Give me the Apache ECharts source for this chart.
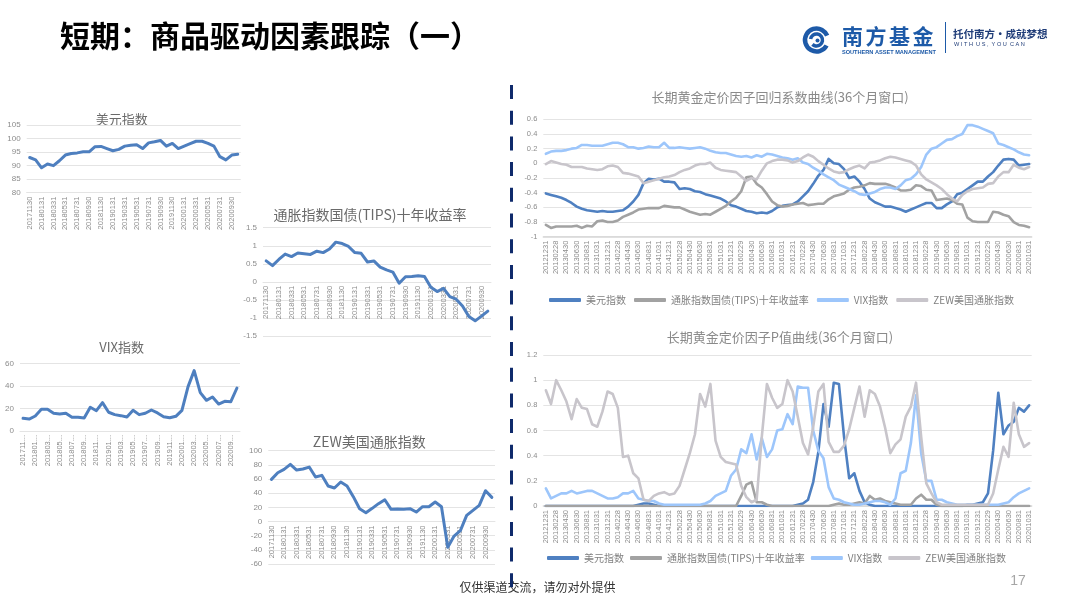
<!DOCTYPE html>
<html><head><meta charset="utf-8">
<script src="https://cdn.jsdelivr.net/npm/echarts@6/dist/echarts.min.js"></script>
<style>html,body{margin:0;padding:0;background:#fff}#c{width:1080px;height:599px}</style>
</head><body><div id="c"></div>
<script>
// ---------- data ----------
const smallDates = ['20171130','20171231','20180131','20180228','20180331','20180430','20180531','20180630','20180731','20180831','20180930','20181031','20181130','20181231','20190131','20190228','20190331','20190430','20190531','20190630','20190731','20190831','20190930','20191031','20191130','20191231','20200131','20200229','20200331','20200430','20200531','20200630','20200731','20200831','20200930','20201031'];
const usdIndex = [93.0,92.1,89.2,90.6,90.0,91.8,93.9,94.5,94.7,95.1,95.1,97.0,97.1,96.3,95.5,96.0,97.2,97.5,97.7,96.3,98.4,98.8,99.3,97.2,98.2,96.3,97.2,98.1,99.0,99.0,98.2,97.2,93.3,92.1,93.9,94.2];
const tipsYield = [0.58,0.45,0.62,0.77,0.70,0.80,0.78,0.76,0.85,0.81,0.91,1.10,1.06,0.98,0.81,0.79,0.55,0.58,0.41,0.33,0.27,-0.04,0.14,0.15,0.17,0.15,-0.15,-0.27,-0.18,-0.41,-0.48,-0.67,-0.96,-1.08,-0.95,-0.81];
const vixIndex = [11.2,10.6,13.3,19.2,19.2,15.7,15.1,15.7,12.1,12.1,11.5,21.0,18.0,25.1,16.6,14.5,13.6,12.4,18.3,14.5,15.7,18.6,16.0,12.7,11.8,13.0,18.3,39.3,53.5,34.0,27.2,30.1,23.9,26.3,26.0,38.1];
const zewIndex = [59.5,68.9,73.6,80.7,72.7,74.1,76.9,62.8,65.2,50.1,47.3,55.8,50.1,35.1,18.1,12.5,18.6,25.2,30.8,17.2,17.6,17.2,18.1,13.4,20.9,20.9,27.5,20.9,-36.5,-20.5,-12.9,8.7,15.8,22.8,43.5,34.1];

const longDates = ['20121231',
 '20130131','20130228','20130331','20130430','20130531','20130630','20130731','20130831','20130930','20131031','20131130','20131231',
 '20140131','20140228','20140331','20140430','20140531','20140630','20140731','20140831','20140930','20141031','20141130','20141231',
 '20150131','20150228','20150331','20150430','20150531','20150630','20150731','20150831','20150930','20151031','20151130','20151231',
 '20160131','20160229','20160331','20160430','20160531','20160630','20160731','20160831','20160930','20161031','20161130','20161231',
 '20170131','20170228','20170331','20170430','20170531','20170630','20170731','20170831','20170930','20171031','20171130','20171231',
 '20180131','20180228','20180331','20180430','20180531','20180630','20180731','20180831','20180930','20181031','20181130','20181231',
 '20190131','20190228','20190331','20190430','20190531','20190630','20190731','20190831','20190930','20191031','20191130','20191231',
 '20200131','20200229','20200331','20200430','20200531','20200630','20200731','20200831','20200930','20201031'];

const coefUsd = [-0.41,-0.43,-0.45,-0.47,-0.50,-0.54,-0.59,-0.62,-0.64,-0.65,
 -0.66,-0.65,-0.66,-0.66,-0.65,-0.64,-0.59,-0.52,-0.43,-0.27,
 -0.21,-0.22,-0.21,-0.25,-0.25,-0.26,-0.35,-0.34,-0.35,-0.38,
 -0.39,-0.42,-0.44,-0.46,-0.48,-0.52,-0.57,-0.59,-0.62,-0.65,
 -0.66,-0.68,-0.67,-0.68,-0.65,-0.60,-0.58,-0.57,-0.56,-0.52,
 -0.45,-0.38,-0.28,-0.17,-0.09,0.06,0.00,-0.01,-0.08,-0.20,
 -0.18,-0.25,-0.35,-0.48,-0.53,-0.56,-0.59,-0.59,-0.61,-0.63,
 -0.66,-0.63,-0.60,-0.57,-0.54,-0.54,-0.61,-0.61,-0.56,-0.52,
 -0.42,-0.40,-0.35,-0.30,-0.25,-0.25,-0.18,-0.12,-0.03,0.05,
 0.06,0.05,-0.03,-0.02,-0.01];
const coefTips = [-0.84,-0.88,-0.86,-0.86,-0.86,-0.86,-0.85,-0.88,-0.85,-0.86,
 -0.79,-0.78,-0.80,-0.80,-0.78,-0.73,-0.70,-0.67,-0.63,-0.62,
 -0.61,-0.61,-0.61,-0.58,-0.59,-0.60,-0.60,-0.63,-0.66,-0.68,
 -0.70,-0.69,-0.70,-0.66,-0.62,-0.58,-0.52,-0.47,-0.38,-0.19,
 -0.18,-0.28,-0.33,-0.42,-0.52,-0.57,-0.59,-0.58,-0.56,-0.55,
 -0.54,-0.57,-0.56,-0.55,-0.55,-0.49,-0.45,-0.43,-0.41,-0.36,
 -0.33,-0.32,-0.30,-0.27,-0.28,-0.28,-0.28,-0.30,-0.33,-0.37,
 -0.37,-0.36,-0.30,-0.31,-0.36,-0.37,-0.50,-0.49,-0.48,-0.50,
 -0.55,-0.56,-0.74,-0.79,-0.80,-0.80,-0.80,-0.66,-0.67,-0.70,
 -0.72,-0.80,-0.84,-0.85,-0.87];
const coefVix = [0.13,0.16,0.17,0.17,0.18,0.20,0.21,0.25,0.25,0.24,
 0.24,0.24,0.26,0.28,0.28,0.26,0.22,0.22,0.20,0.21,
 0.23,0.22,0.22,0.28,0.21,0.21,0.22,0.21,0.20,0.21,
 0.22,0.20,0.17,0.15,0.14,0.14,0.12,0.10,0.09,0.10,
 0.08,0.11,0.09,0.13,0.12,0.10,0.08,0.07,0.05,0.07,
 0.01,-0.01,-0.06,-0.10,-0.15,-0.19,-0.23,-0.29,-0.32,-0.35,
 -0.38,-0.42,-0.43,-0.41,-0.39,-0.35,-0.33,-0.33,-0.35,-0.30,
 -0.23,-0.21,-0.15,-0.05,0.12,0.20,0.22,0.27,0.32,0.33,
 0.37,0.40,0.52,0.52,0.50,0.47,0.44,0.41,0.27,0.25,
 0.22,0.19,0.15,0.12,0.11];
const coefZew = [-0.01,0.03,0.01,-0.01,-0.02,-0.05,-0.05,-0.05,-0.07,-0.08,
 -0.09,-0.08,-0.04,-0.03,-0.05,-0.13,-0.14,-0.16,-0.18,-0.27,
 -0.25,-0.23,-0.21,-0.19,-0.18,-0.16,-0.12,-0.09,-0.07,-0.03,
 -0.01,-0.01,0.01,-0.06,-0.09,-0.10,-0.11,-0.12,-0.18,-0.24,
 -0.20,-0.22,-0.10,0.00,0.03,0.05,0.05,0.04,0.01,0.03,
 0.08,0.12,0.09,0.03,-0.02,-0.07,-0.11,-0.13,-0.12,-0.08,
 -0.05,-0.03,-0.07,0.01,0.02,0.04,0.07,0.09,0.08,0.06,
 0.04,0.02,-0.03,-0.15,-0.22,-0.26,-0.30,-0.35,-0.42,-0.48,
 -0.52,-0.43,-0.38,-0.35,-0.34,-0.33,-0.28,-0.27,-0.18,-0.12,
 -0.12,-0.02,-0.06,-0.08,-0.05];

const pUsd = [0,0,0,0,0,0,0,0,0,0,
 0,0,0,0,0,0,0,0,0.01,0.02,
 0.02,0.01,0,0,0,0,0,0,0,0,
 0,0,0,0,0,0,0,0,0,0,
 0,0,0,0,0,0,0,0,0,0.01,
 0.02,0.05,0.19,0.43,0.81,0.63,0.98,0.97,0.55,0.22,
 0.26,0.12,0.03,0.01,0,0,0,0,0,0,
 0,0,0,0,0,0,0,0,0,0,
 0,0,0.01,0.01,0.02,0.03,0.10,0.44,0.90,0.57,
 0.64,0.67,0.78,0.75,0.80];
const pTips = [0,0,0,0,0,0,0,0,0,0,
 0,0,0,0,0,0,0,0,0,0,
 0,0,0,0,0,0,0,0,0,0,
 0,0,0,0,0,0,0,0,0.08,0.17,
 0.19,0.03,0.03,0.01,0,0,0,0,0,0,
 0,0,0,0,0,0,0.01,0.02,0.01,0.01,
 0.02,0.03,0.02,0.08,0.05,0.06,0.04,0.03,0.02,0.01,
 0.01,0.01,0.06,0.09,0.05,0.05,0.01,0,0,0,
 0,0,0,0,0,0,0,0,0,0,
 0,0,0,0,0];
const pVix = [0.14,0.06,0.08,0.10,0.10,0.12,0.10,0.11,0.12,0.12,
 0.10,0.08,0.06,0.06,0.07,0.10,0.10,0.12,0.06,0.05,
 0.04,0.04,0.02,0.01,0.01,0.01,0.01,0.01,0.01,0.01,
 0.01,0.02,0.04,0.08,0.10,0.12,0.24,0.29,0.45,0.42,
 0.57,0.37,0.54,0.39,0.45,0.60,0.61,0.73,0.65,0.95,
 0.94,0.94,0.60,0.44,0.38,0.15,0.06,0.05,0.03,0.02,
 0.01,0.01,0.02,0.03,0.04,0.04,0.03,0.01,0.06,0.26,
 0.28,0.50,0.88,0.42,0.20,0.20,0.05,0.05,0.03,0.02,
 0.01,0.01,0.01,0.01,0.01,0.01,0.01,0.01,0.01,0.02,
 0.03,0.07,0.10,0.12,0.14];
const pZew = [0.92,0.81,1.00,0.92,0.83,0.69,0.85,0.78,0.77,0.65,
 0.63,0.75,0.91,0.89,0.78,0.39,0.40,0.26,0.22,0.05,
 0.04,0.08,0.10,0.11,0.09,0.10,0.16,0.29,0.42,0.57,
 0.89,0.79,0.97,0.52,0.39,0.35,0.34,0.33,0.16,0.07,
 0.03,0.05,0.55,0.97,0.86,0.78,0.81,1.00,0.91,0.71,
 0.50,0.41,0.63,0.91,0.97,0.51,0.43,0.43,0.48,0.61,
 0.78,0.95,0.71,0.92,0.89,0.79,0.62,0.42,0.49,0.53,
 0.71,0.79,0.98,0.55,0.18,0.10,0.03,0.01,0.01,0.01,
 0.01,0.01,0.01,0.01,0.01,0.01,0.01,0.10,0.29,0.47,
 0.39,0.82,0.57,0.47,0.50];

const factorNames = ['美元指数','通胀指数国债(TIPS)十年收益率','VIX指数','ZEW美国通胀指数'];
const factorColors = ['#4f80c1','#a2a2a2','#9dc6fb','#c8c5cb'];
const chartTitles = ['美元指数','通胀指数国债(TIPS)十年收益率','VIX指数','ZEW美国通胀指数',
  '长期黄金定价因子回归系数曲线(36个月窗口)','长期黄金定价因子P值曲线(36个月窗口)'];

// ---------- layout ----------
const CJK = '"Noto Sans CJK SC","Noto Sans",sans-serif';
const NUM = '"Liberation Sans","Noto Sans",sans-serif';
const grids = [
  {left: 26.7, top: 125, width: 214, height: 67.7},
  {left: 263, top: 227.7, width: 228, height: 108.3},
  {left: 20, top: 363.3, width: 220, height: 67.7},
  {left: 268.3, top: 450.7, width: 226.7, height: 113.3},
  {left: 543.3, top: 119.3, width: 488.4, height: 117.4},
  {left: 543.3, top: 355, width: 488.4, height: 151}
];
const yCfg = [
  {min: 80, max: 105, interval: 5},
  {min: -1.5, max: 1.5, interval: 0.5},
  {min: 0, max: 60, interval: 20},
  {min: -60, max: 100, interval: 20},
  {min: -1, max: 0.6, interval: 0.2},
  {min: 0, max: 1.2, interval: 0.2}
];
const axisAtZero = [false, true, false, true, false, false];
const gridColor = '#e4e4e4';
const labColor = '#8c8c8c';

// place the category axis where the value axis crosses zero (charts 2 and 4)
function zeroOffset(i) {
  const g = grids[i], c = yCfg[i];
  if (!axisAtZero[i]) return 0;
  return -g.height * (0 - c.min) / (c.max - c.min);
}

const xAxes = grids.map((g, i) => ({
  type: 'category', gridIndex: i,
  data: i < 4 ? smallDates : longDates,
  offset: zeroOffset(i),
  axisTick: {show: false},
  axisLine: {show: true, onZero: false, lineStyle: {color: i >= 4 ? '#d6d6d6' : gridColor, width: i >= 4 ? 1.5 : 1}},
  axisLabel: {
    rotate: 90, interval: 1, fontSize: 7.5, color: labColor, fontFamily: NUM, margin: 4,
    formatter: i === 2 ? (v => v.slice(0, 6) + '...') : null
  }
}));
const yAxes = yCfg.map((c, i) => ({
  type: 'value', gridIndex: i, min: c.min, max: c.max, interval: c.interval,
  axisLine: {show: false}, axisTick: {show: false},
  splitLine: {lineStyle: {color: gridColor, width: 1}},
  axisLabel: {fontSize: i >= 4 ? 7.5 : 8, color: labColor, fontFamily: NUM, margin: 6}
}));

const smallSeries = [usdIndex, tipsYield, vixIndex, zewIndex].map((d, i) => ({
  type: 'line', xAxisIndex: i, yAxisIndex: i, data: d, symbol: 'none', z: 5,
  lineStyle: {width: 3, color: '#4e7fbf', cap: 'round', join: 'round'}
}));
const coefData = [coefUsd, coefTips, coefVix, coefZew];
const pData = [pUsd, pTips, pVix, pZew];
const bigSeries = [];
[coefData, pData].forEach((set, k) => {
  set.forEach((d, j) => {
    bigSeries.push({
      type: 'line', name: factorNames[j], xAxisIndex: 4 + k, yAxisIndex: 4 + k, data: d,
      symbol: 'none', color: factorColors[j],
      lineStyle: {width: 2.6, color: factorColors[j], cap: 'round', join: 'round'}
    });
  });
});

function txt(x, y, text, font, fill, align, extra) {
  return Object.assign({type: 'text', x: x, y: y, silent: true,
    style: {text: text, font: font, fill: fill, align: align || 'center', verticalAlign: 'middle'}}, extra || {});
}
const titlePos = [[121.7, 118.7, 13], [370, 214.5, 14], [121.7, 347, 13], [369.3, 441.7, 14], [780, 97, 13], [780, 337.5, 13]];
const graphics = [];
titlePos.forEach((p, i) => graphics.push(txt(p[0], p[1], chartTitles[i], p[2] + 'px ' + CJK, i >= 4 ? '#8a8a8a' : '#6a6a6a')));
graphics.push(txt(60, 36, '短期：商品驱动因素跟踪（一）', 'bold 30px ' + CJK, '#000', 'left'));
graphics.push(txt(537.5, 587, '仅供渠道交流，请勿对外提供', '12px ' + CJK, '#333'));
graphics.push(txt(1018, 581, '17', '14px ' + NUM, '#a6a6a6'));
graphics.push({type: 'line', silent: true, z: 10, shape: {x1: 511.5, y1: 85, x2: 511.5, y2: 596},
  style: {stroke: '#0f2a6b', lineWidth: 3, lineDash: [14, 11.7]}});
// logo
const logoBlue = '#1d5aa8';
graphics.push({type: 'arc', silent: true, shape: {cx: 816.5, cy: 40, r: 11.5, startAngle: 0.5, endAngle: 5.9}, style: {stroke: logoBlue, lineWidth: 4.5, fill: null}});
graphics.push({type: 'arc', silent: true, shape: {cx: 816.5, cy: 40, r: 6, startAngle: 3.3, endAngle: 8.6}, style: {stroke: logoBlue, lineWidth: 3.5, fill: null}});
graphics.push({type: 'circle', silent: true, shape: {cx: 817.5, cy: 40.5, r: 2}, style: {fill: logoBlue}});
['南', '方', '基', '金'].forEach((c, i) => graphics.push(txt(852.5 + i * 23.5, 36, c, 'bold 21px ' + CJK, logoBlue)));
graphics.push(txt(842, 52, 'SOUTHERN ASSET MANAGEMENT', 'bold 5.6px ' + NUM, logoBlue, 'left'));
graphics.push({type: 'line', silent: true, shape: {x1: 945.5, y1: 22, x2: 945.5, y2: 53}, style: {stroke: logoBlue, lineWidth: 1}});
graphics.push(txt(953, 34.5, '托付南方·成就梦想', 'bold 10.5px ' + CJK, '#1f3c78', 'left'));
graphics.push(txt(954, 44.5, 'W I T H  U S ,  Y O U  C A N', '5.6px ' + NUM, '#1f3c78', 'left'));

const legendBase = {
  data: factorNames, icon: 'roundRect', itemWidth: 32, itemHeight: 4, itemGap: 8, padding: 0,
  selectedMode: false, textStyle: {fontSize: 10, color: '#7f7f7f', fontFamily: CJK}
};

const option = {
  animation: false,
  backgroundColor: '#fff',
  grid: grids.map(g => Object.assign({containLabel: false}, g)),
  xAxis: xAxes,
  yAxis: yAxes,
  legend: [
    Object.assign({}, legendBase, {left: 549, top: 295}),
    Object.assign({}, legendBase, {left: 547, top: 553, itemGap: 6})
  ],
  series: smallSeries.concat(bigSeries),
  graphic: graphics
};
const chart = echarts.init(document.getElementById('c'), null, {renderer: 'canvas'});
chart.setOption(option);
</script></body></html>
